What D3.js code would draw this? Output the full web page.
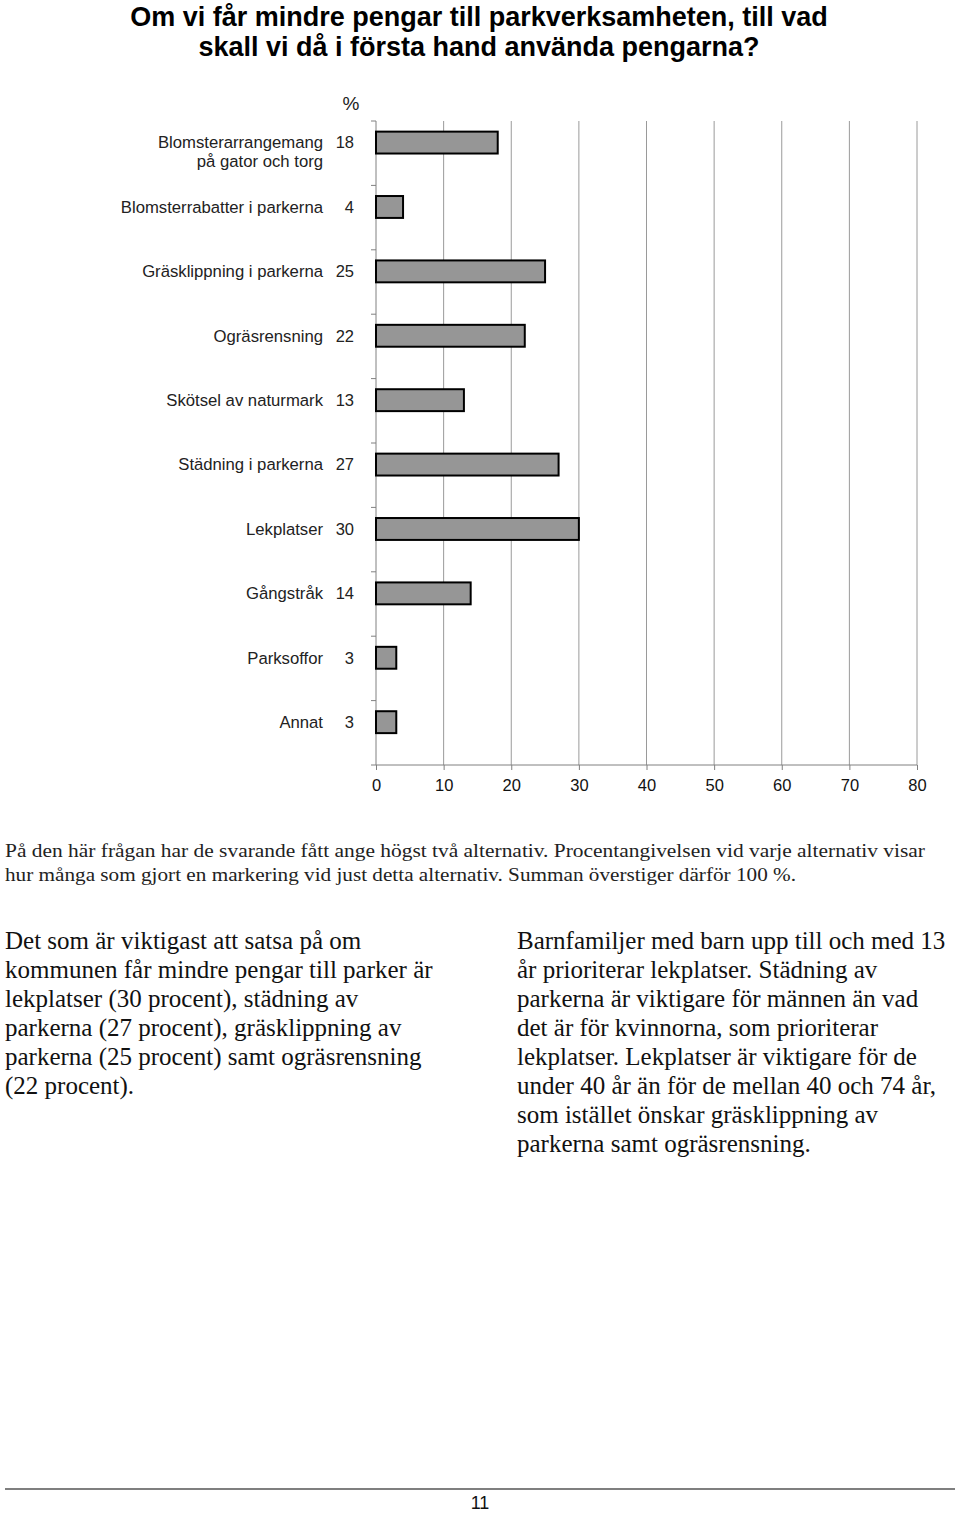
<!DOCTYPE html>
<html>
<head>
<meta charset="utf-8">
<script src="https://cdn.jsdelivr.net/npm/d3@7"></script>
<style>
  body { margin: 0; background: #fff; }
  svg { display: block; }
</style>
</head>
<body>
<div id="chart"></div>
<script>
// data
var categories = [
  ['Blomsterarrangemang', 'på gator och torg'],
  ['Blomsterrabatter i parkerna'],
  ['Gräsklippning i parkerna'],
  ['Ogräsrensning'],
  ['Skötsel av naturmark'],
  ['Städning i parkerna'],
  ['Lekplatser'],
  ['Gångstråk'],
  ['Parksoffor'],
  ['Annat']
];
var values = [18, 4, 25, 22, 13, 27, 30, 14, 3, 3];
var xTicks = [0, 10, 20, 30, 40, 50, 60, 70, 80];

var titleLines = [
  'Om vi får mindre pengar till parkverksamheten, till vad',
  'skall vi då i första hand använda pengarna?'
];
var noteLines = [
  'På den här frågan har de svarande fått ange högst två alternativ. Procentangivelsen vid varje alternativ visar',
  'hur många som gjort en markering vid just detta alternativ. Summan överstiger därför 100 %.'
];
var leftText = [
  'Det som är viktigast att satsa på om',
  'kommunen får mindre pengar till parker är',
  'lekplatser (30 procent), städning av',
  'parkerna (27 procent), gräsklippning av',
  'parkerna (25 procent) samt ogräsrensning',
  '(22 procent).'
];
var rightText = [
  'Barnfamiljer med barn upp till och med 13',
  'år prioriterar lekplatser. Städning av',
  'parkerna är viktigare för männen än vad',
  'det är för kvinnorna, som prioriterar',
  'lekplatser. Lekplatser är viktigare för de',
  'under 40 år än för de mellan 40 och 74 år,',
  'som istället önskar gräsklippning av',
  'parkerna samt ogräsrensning.'
];
var pageNumber = '11';

var W = 960, H = 1513;
var svg = d3.select('#chart').append('svg')
  .attr('width', W).attr('height', H);

var sans = 'Liberation Sans, Arial, sans-serif';
var serif = 'Liberation Serif, Times New Roman, serif';

// title
svg.append('g').selectAll('text').data(titleLines).enter().append('text')
  .attr('x', 479).attr('y', function(d, i) { return 26 + i * 30; })
  .attr('text-anchor', 'middle')
  .style('font-family', sans).style('font-weight', 'bold').style('font-size', '27px')
  .text(function(d) { return d; });

// chart
var plotL = 376, plotR = 917, plotT = 121, plotB = 765;
var x = d3.scaleLinear().domain([0, 80]).range([plotL, plotR]);
var y = d3.scaleBand().domain(d3.range(categories.length)).range([plotT, plotB]);
var bw = y.bandwidth();

var grid = svg.append('g');
grid.selectAll('line').data(xTicks.slice(1)).enter().append('line')
  .attr('x1', function(d) { return x(d); }).attr('x2', function(d) { return x(d); })
  .attr('y1', plotT).attr('y2', plotB)
  .attr('stroke', '#9a9a9a').attr('stroke-width', 1);

// x axis
var xAxis = svg.append('g')
  .attr('transform', 'translate(0,' + plotB + ')')
  .call(d3.axisBottom(x).tickValues(xTicks).tickSize(5).tickSizeOuter(0).tickPadding(9));
xAxis.select('.domain').attr('d', 'M' + (plotL - 5) + ',0H' + plotR).attr('stroke', '#808080');
xAxis.selectAll('.tick line').attr('stroke', '#808080');
xAxis.selectAll('.tick text')
  .style('font-family', sans).style('font-size', '16.5px').attr('fill', '#111');

// y axis line with ticks at band edges
var yEdges = d3.range(categories.length).map(function(i) { return y(i); });
var yAxis = svg.append('g');
yAxis.append('line')
  .attr('x1', plotL).attr('x2', plotL).attr('y1', plotT).attr('y2', plotB)
  .attr('stroke', '#808080');
yAxis.selectAll('line.tk').data(yEdges).enter().append('line').attr('class', 'tk')
  .attr('x1', plotL - 5).attr('x2', plotL)
  .attr('y1', function(d) { return d; }).attr('y2', function(d) { return d; })
  .attr('stroke', '#808080');

// bars
var barTop = function(i) { return y(i) + bw * 0.165; };
var barH = bw * 0.34;
svg.append('g').selectAll('rect').data(values).enter().append('rect')
  .attr('x', x(0))
  .attr('y', function(d, i) { return barTop(i); })
  .attr('width', function(d) { return x(d) - x(0); })
  .attr('height', barH)
  .attr('fill', '#969696').attr('stroke', '#000').attr('stroke-width', 2);

// value labels
svg.append('g').selectAll('text').data(values).enter().append('text')
  .attr('x', 354)
  .attr('y', function(d, i) { return barTop(i) + barH / 2; })
  .attr('dy', '0.35em').attr('text-anchor', 'end')
  .style('font-family', sans).style('font-size', '16.5px').attr('fill', '#222')
  .text(function(d) { return d; });

// category labels
var cat = svg.append('g').selectAll('text').data(categories).enter().append('text')
  .attr('x', 323)
  .attr('y', function(d, i) { return barTop(i) + barH / 2; })
  .attr('text-anchor', 'end')
  .style('font-family', sans).style('font-size', '16.7px').attr('fill', '#222');
cat.selectAll('tspan').data(function(d) { return d; }).enter().append('tspan')
  .attr('x', 323)
  .attr('dy', function(d, i) { return i === 0 ? '0.35em' : '19px'; })
  .text(function(d) { return d; });

svg.append('text')
  .attr('x', 351).attr('y', 110).attr('text-anchor', 'middle')
  .style('font-family', sans).style('font-size', '19px').attr('fill', '#222')
  .text('%');

// note under chart
svg.append('g').selectAll('text').data(noteLines).enter().append('text')
  .attr('x', 5).attr('y', function(d, i) { return 857 + i * 24; })
  .attr('textLength', function(d, i) { return i === 0 ? 920 : 791; })
  .attr('lengthAdjust', 'spacingAndGlyphs')
  .style('font-family', serif).style('font-size', '18.5px').attr('fill', '#222')
  .text(function(d) { return d; });

// body text columns
function column(lines, x0) {
  svg.append('g').selectAll('text').data(lines).enter().append('text')
    .attr('x', x0).attr('y', function(d, i) { return 949 + i * 29; })
    .style('font-family', serif).style('font-size', '25px').attr('fill', '#111')
    .text(function(d) { return d; });
}
column(leftText, 5);
column(rightText, 517);

// footer
svg.append('line')
  .attr('x1', 5).attr('x2', 955).attr('y1', 1489).attr('y2', 1489)
  .attr('stroke', '#555').attr('stroke-width', 1.5);
svg.append('text')
  .attr('x', 480).attr('y', 1509).attr('text-anchor', 'middle')
  .style('font-family', sans).style('font-size', '18px').attr('fill', '#111')
  .text(pageNumber);
</script>
</body>
</html>
